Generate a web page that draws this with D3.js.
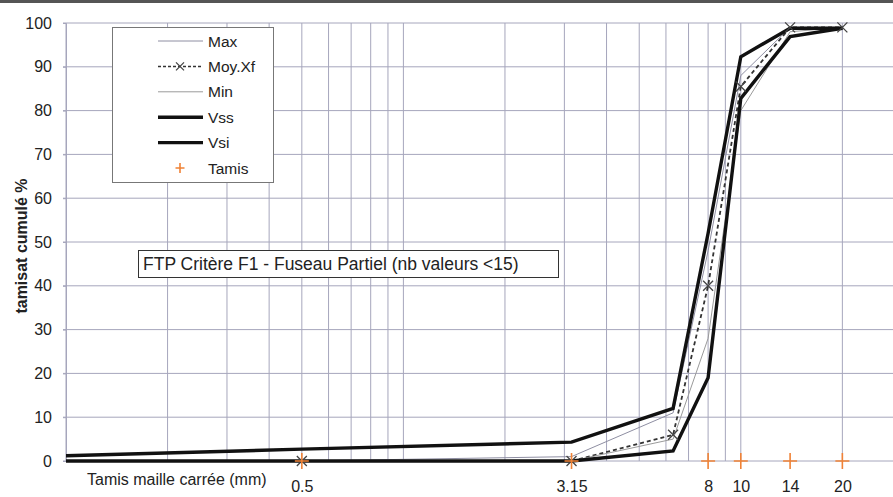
<!DOCTYPE html>
<html>
<head>
<meta charset="utf-8">
<script src="https://cdn.jsdelivr.net/npm/d3@7"></script>
<style>
  body { margin: 0; background: #fff; }
  svg { display: block; font-family: "Liberation Sans", Arial, sans-serif; }
</style>
</head>
<body>
<svg id="chart" width="893" height="497"></svg>
<script>
// Sieve openings (mm) and cumulative passing (%) per curve
const sieves    = [0.08, 0.5, 3.15, 6.3, 8, 10, 14, 20];
const maxValues = [0, 0, 1, 11, 48, 88, 99, 99];
const moyValues = [0, 0, 0, 6, 40, 85.5, 99, 99];
const minValues = [0, 0, 0, 5, 28, 80, 98, 99];
const vssValues = [1, 2.7, 4.3, 12, 52, 92.3, 98.8, 98.8];
const vsiValues = [0, 0, 0, 2.3, 19, 82.8, 96.9, 98.8];

// Sieves of the tested series (shown as markers on the x axis)
const tamisSieves = [0.5, 3.15, 8, 10, 14, 20];
const tamisLabels = ["0.5", "3.15", "8", "10", "14", "20"];
const yTickValues = [0, 10, 20, 30, 40, 50, 60, 70, 80, 90, 100];

const svg = d3.select("#chart");
const W = 893, H = 497;
const plotLeft = 66, plotTop = 23, plotBottom = 461;
const decade = 337.4;

const x = d3.scaleLog().domain([0.1, 100]).range([plotLeft, plotLeft + 3 * decade]);
const y = d3.scaleLinear().domain([0, 100]).range([plotBottom, plotTop]);

const gridColor = "#a6a6bc";

// Frame line along the top edge
svg.append("line").attr("x1", 0).attr("x2", W).attr("y1", 1.5).attr("y2", 1.5)
  .attr("stroke", "#555").attr("stroke-width", 3);

svg.append("defs").append("clipPath").attr("id", "plot")
  .append("rect").attr("x", plotLeft).attr("y", 0).attr("width", W - plotLeft).attr("height", H);

// Vertical grid (log decades and their subdivisions)
const grid = svg.append("g");
grid.selectAll("line.v").data(x.ticks().filter(d => x(d) <= W))
  .join("line").attr("class", "v")
  .attr("x1", d => x(d)).attr("x2", d => x(d))
  .attr("y1", plotTop).attr("y2", plotBottom)
  .attr("stroke", gridColor).attr("stroke-width", 1);

// Horizontal grid
grid.selectAll("line.h").data(yTickValues)
  .join("line").attr("class", "h")
  .attr("x1", plotLeft - 3).attr("x2", W)
  .attr("y1", d => y(d)).attr("y2", d => y(d))
  .attr("stroke", gridColor).attr("stroke-width", 1);

// Y axis
const yAxis = svg.append("g").attr("transform", `translate(${plotLeft},0)`)
  .call(d3.axisLeft(y).tickValues(yTickValues).tickSize(3).tickPadding(11));
yAxis.select(".domain").attr("stroke", gridColor);
yAxis.selectAll(".tick line").attr("stroke", gridColor);
yAxis.selectAll("text").attr("font-size", 16).attr("fill", "#222")
  .attr("font-family", "Liberation Sans, Arial, sans-serif");

svg.append("text")
  .attr("transform", `translate(27,246) rotate(-90)`)
  .attr("text-anchor", "middle")
  .attr("font-size", 16).attr("font-weight", "bold").attr("fill", "#222")
  .text("tamisat cumulé %");

// X axis labels
const xAxis = svg.append("g").attr("transform", `translate(0,${plotBottom})`)
  .call(d3.axisBottom(x).tickValues(tamisSieves).tickFormat((d, i) => tamisLabels[i]).tickSize(0).tickPadding(20));
xAxis.select(".domain").remove();
xAxis.selectAll("text").attr("font-size", 16).attr("fill", "#222")
  .attr("font-family", "Liberation Sans, Arial, sans-serif");

svg.append("text").attr("x", 87).attr("y", 485)
  .attr("font-size", 16).attr("fill", "#222")
  .text("Tamis maille carrée (mm)");

// Curves
const plot = svg.append("g").attr("clip-path", "url(#plot)");
const line = d3.line().x(d => x(d[0])).y(d => y(d[1]));
const series = [
  { name: "Max",    values: maxValues, stroke: "#8e8ea2", width: 1,   dash: null },
  { name: "Moy.Xf", values: moyValues, stroke: "#333",    width: 1.8, dash: "4,3" },
  { name: "Min",    values: minValues, stroke: "#9a9a9a", width: 1,   dash: null },
  { name: "Vss",    values: vssValues, stroke: "#111",    width: 3.4, dash: null },
  { name: "Vsi",    values: vsiValues, stroke: "#111",    width: 3.4, dash: null }
];
series.forEach(s => {
  plot.append("path")
    .datum(sieves.map((d, i) => [d, s.values[i]]))
    .attr("d", line)
    .attr("fill", "none")
    .attr("stroke", s.stroke)
    .attr("stroke-width", s.width)
    .attr("stroke-dasharray", s.dash)
    .attr("stroke-linejoin", "miter");
});

// X markers on the mean curve
const xMark = (g, cx, cy, r) => {
  g.append("path")
    .attr("d", `M${cx - r},${cy - r}L${cx + r},${cy + r}M${cx - r},${cy + r}L${cx + r},${cy - r}`)
    .attr("stroke", "#444").attr("stroke-width", 1.3).attr("fill", "none");
};
sieves.forEach((d, i) => xMark(plot, x(d), y(moyValues[i]), 5));

// Tested sieves on the zero line
const plusMark = (g, cx, cy, rx, ry) => {
  g.append("path")
    .attr("d", `M${cx - rx},${cy}L${cx + rx},${cy}M${cx},${cy - ry}L${cx},${cy + ry}`)
    .attr("stroke", "#f08236").attr("stroke-width", 1.6).attr("fill", "none");
};
tamisSieves.forEach(d => plusMark(plot, x(d), y(0), 7, 8));

// Legend
const lg = svg.append("g");
lg.append("rect").attr("x", 112.5).attr("y", 27.5).attr("width", 161).attr("height", 155)
  .attr("fill", "#fff").attr("stroke", "#777").attr("stroke-width", 1);
const legendRows = [
  { name: "Max",    stroke: "#8e8ea2", width: 1,   dash: null, mark: null },
  { name: "Moy.Xf", stroke: "#333",    width: 1.5, dash: "3,2", mark: "x" },
  { name: "Min",    stroke: "#9a9a9a", width: 1,   dash: null, mark: null },
  { name: "Vss",    stroke: "#111",    width: 3.4, dash: null, mark: null },
  { name: "Vsi",    stroke: "#111",    width: 3.4, dash: null, mark: null },
  { name: "Tamis",  stroke: null,      width: 0,   dash: null, mark: "+" }
];
legendRows.forEach((r, i) => {
  const cy = 41 + i * 25.4;
  if (r.stroke) {
    lg.append("line").attr("x1", 158).attr("x2", 203).attr("y1", cy).attr("y2", cy)
      .attr("stroke", r.stroke).attr("stroke-width", r.width).attr("stroke-dasharray", r.dash);
  }
  if (r.mark === "x") xMark(lg, 180, cy, 4);
  if (r.mark === "+") plusMark(lg, 180, cy, 4.5, 5);
  lg.append("text").attr("x", 208).attr("y", cy).attr("dy", "0.36em")
    .attr("font-size", 15.5).attr("fill", "#222").text(r.name);
});

// Criterion note
svg.append("rect").attr("x", 138.5).attr("y", 250.5).attr("width", 420).attr("height", 27)
  .attr("fill", "#fff").attr("stroke", "#333").attr("stroke-width", 1);
svg.append("text").attr("x", 143).attr("y", 269.5)
  .attr("font-size", 17.5).attr("fill", "#222")
  .text("FTP Critère F1 - Fuseau Partiel (nb valeurs <15)");
</script>
</body>
</html>
